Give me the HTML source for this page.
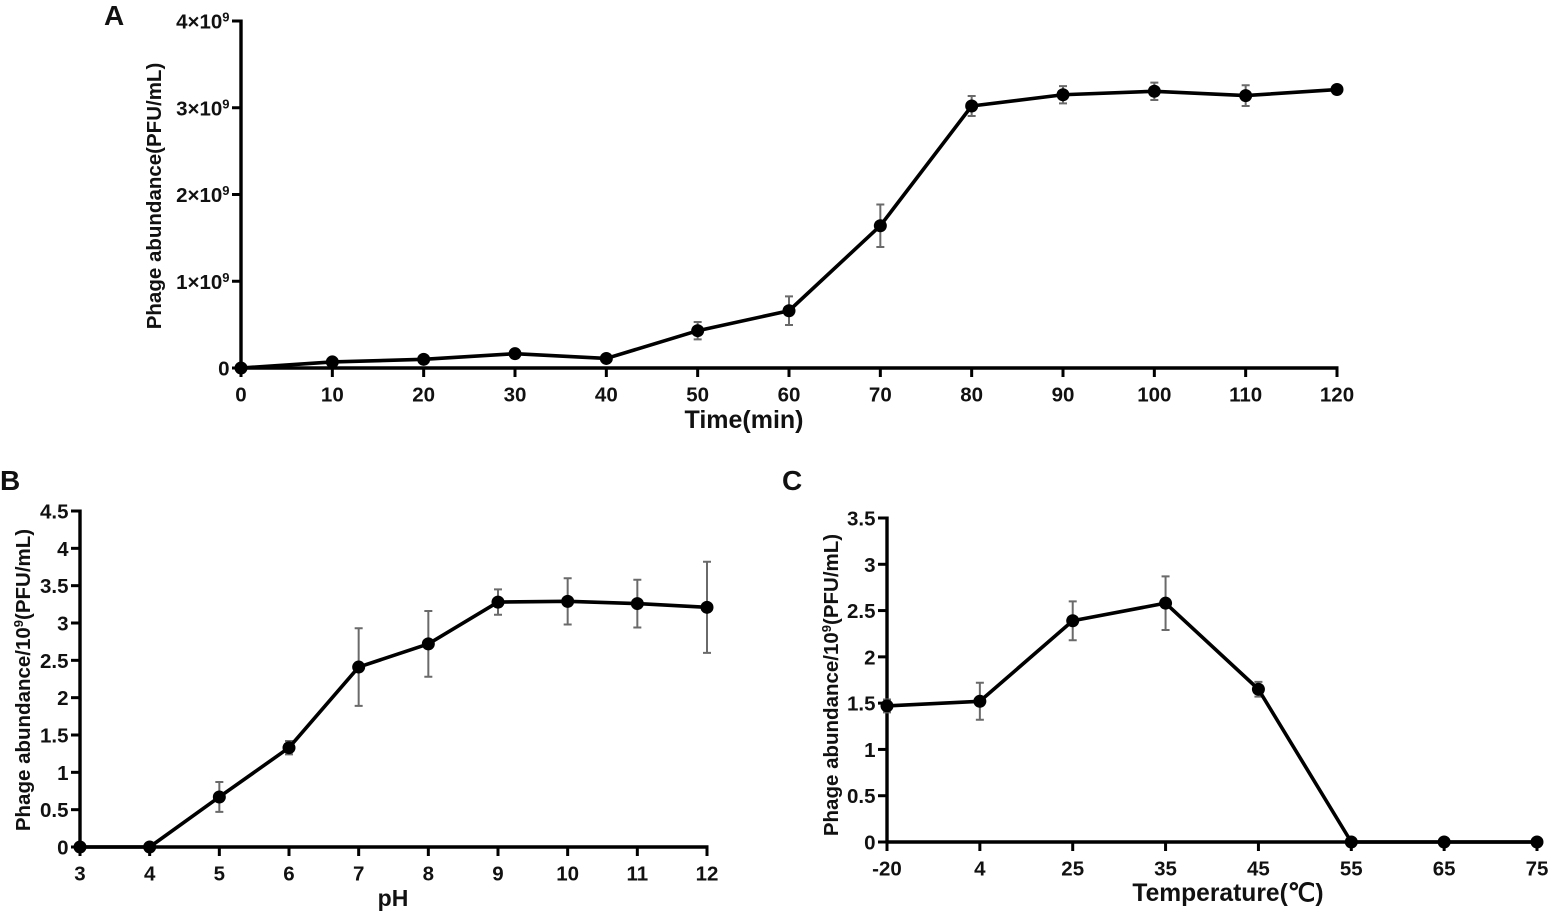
<!DOCTYPE html>
<html>
<head>
<meta charset="utf-8">
<style>
html,body{margin:0;padding:0;background:#fff;}
svg{display:block;}
text{font-family:"Liberation Sans",sans-serif;font-weight:bold;fill:#111;}
</style>
</head>
<body>
<svg id="fig" xmlns="http://www.w3.org/2000/svg" width="1549" height="911" viewBox="0 0 1549 911"></svg>
<script>
// Panel A data
const timeCategories = [0,10,20,30,40,50,60,70,80,90,100,110,120];
const timeValues = [0,0.07,0.10,0.165,0.11,0.43,0.66,1.64,3.02,3.15,3.19,3.14,3.21];
const timeErrors = [0,0,0,0,0,0.10,0.165,0.245,0.115,0.10,0.10,0.12,0];
const timeYTicks = [0,1,2,3,4];
// Panel B data
const phCategories = [3,4,5,6,7,8,9,10,11,12];
const phValues = [0,0,0.67,1.33,2.41,2.72,3.28,3.29,3.26,3.21];
const phErrors = [0,0,0.2,0.09,0.52,0.44,0.17,0.31,0.32,0.61];
const phYTicks = [0,0.5,1,1.5,2,2.5,3,3.5,4,4.5];
// Panel C data
const tempCategories = [-20,4,25,35,45,55,65,75];
const tempValues = [1.47,1.52,2.39,2.58,1.65,0,0,0];
const tempErrors = [0.07,0.2,0.21,0.29,0.08,0,0,0];
const tempYTicks = [0,0.5,1,1.5,2,2.5,3,3.5];

const svg = document.getElementById('fig');
const NS = 'http://www.w3.org/2000/svg';
function mk(tag, attrs, parent){
  const e = document.createElementNS(NS, tag);
  for(const k in attrs) e.setAttribute(k, attrs[k]);
  parent.appendChild(e);
  return e;
}
function panel(cfg){
  const g = mk('g', {}, svg);
  
  
  const n = cfg.cats.length;
  const sx = i => cfg.x0 + (cfg.x1 - cfg.x0) * i / (n - 1);
  const yMax = cfg.yTicks[cfg.yTicks.length - 1];
  const sy = v => cfg.y0 + (cfg.y1 - cfg.y0) * v / yMax;

  // axes
  const yAxis = mk('line', {x1:cfg.x0, x2:cfg.x0, y1:cfg.y0+1.5, y2:cfg.y1-1.5, stroke:'#000','stroke-width':3.4}, g);
  
  
  const xAxis = mk('line', {x1:cfg.x0-1.5, x2:cfg.x1+1.5, y1:cfg.y0, y2:cfg.y0, stroke:'#000','stroke-width':3.4}, g);
  
  

  // y ticks
  cfg.yTicks.forEach(v => {
    const y = sy(v);
    const t = mk('line', {x1:cfg.x0-9, x2:cfg.x0, y1:y, y2:y, stroke:'#000','stroke-width':3}, g);
    
    
    const lab = mk('text', {x:cfg.x0-11.5, y:y+7.5, 'text-anchor':'end','font-size':cfg.tickSize}, g);
    
    
    if(cfg.sci && v !== 0){
      lab.textContent = v + '×10';
      const s = mk('tspan', {dy:-7,'font-size':13}, lab);
      s.textContent = '9';
    } else {
      lab.textContent = v;
    }
  });
  // x ticks
  cfg.cats.forEach((c,i) => {
    const x = sx(i);
    const t = mk('line', {x1:x, x2:x, y1:cfg.y0, y2:cfg.y0+9, stroke:'#000','stroke-width':3}, g);
    
    
    const lab = mk('text', {x:x, y:cfg.y0+33.5, 'text-anchor':'middle','font-size':cfg.tickSize}, g);
    
    
    lab.textContent = c;
  });
  // error bars
  cfg.vals.forEach((v,i) => {
    const e = cfg.errs[i];
    if(!e) return;
    const x = sx(i);
    const top = sy(v + e), bot = sy(v - e);
    const eg = mk('path', {d:`M${x-4} ${top}H${x+4}M${x} ${top}V${bot}M${x-4} ${bot}H${x+4}`, stroke:'#6a6a6a','stroke-width':2, fill:'none'}, g);
    
    
  });
  // line
  const line = mk('polyline', {points:cfg.vals.map((v,i)=>sx(i)+','+sy(v)).join(' '), fill:'none', stroke:'#000','stroke-width':3.6,'stroke-linejoin':'round'}, g);
  
  
  // points
  cfg.vals.forEach((v,i) => {
    const p = mk('circle', {cx:sx(i), cy:sy(v), r:6.5, fill:'#000'}, g);
    
    
  });
  // axis titles
  const xt = mk('text', {x:cfg.xTitleX, y:cfg.xTitleY, 'text-anchor':'middle','font-size':cfg.xTitleSize}, g);
  
  
  xt.textContent = cfg.xTitle;
  const yt = mk('text', {transform:`translate(${cfg.yTitleX} ${cfg.yTitleY}) rotate(-90)`, 'text-anchor':'middle','font-size':cfg.yTitleSize}, g);
  
  
  cfg.yTitle.forEach(part => {
    const s = mk('tspan', part.sup ? {'font-size':13, dy:-7} : (part.after ? {dy:7} : {}), yt);
    s.textContent = part.t;
  });
  // panel letter
  const pl = mk('text', {x:cfg.letterX, y:cfg.letterY, 'font-size':28}, g);
  
  
  pl.textContent = cfg.letter;
}

panel({name:'panel-a-time', letter:'A', letterX:104, letterY:25,
  cats:timeCategories, vals:timeValues, errs:timeErrors, yTicks:timeYTicks, sci:true,
  x0:241, x1:1337, y0:368, y1:21, tickSize:20.5,
  xTitle:'Time(min)', xTitleX:744, xTitleY:428, xTitleSize:25,
  yTitle:[{t:'Phage abundance(PFU/mL)'}], yTitleX:161, yTitleY:196, yTitleSize:20.5});
panel({name:'panel-b-ph', letter:'B', letterX:0, letterY:490,
  cats:phCategories, vals:phValues, errs:phErrors, yTicks:phYTicks,
  x0:80, x1:707, y0:847, y1:511, tickSize:20.5,
  xTitle:'pH', xTitleX:393, xTitleY:906, xTitleSize:23,
  yTitle:[{t:'Phage abundance/10'},{t:'9',sup:true},{t:'(PFU/mL)',after:true}], yTitleX:30, yTitleY:680, yTitleSize:20.5});
panel({name:'panel-c-temperature', letter:'C', letterX:782, letterY:490,
  cats:tempCategories, vals:tempValues, errs:tempErrors, yTicks:tempYTicks,
  x0:887, x1:1537, y0:842, y1:518, tickSize:20.5,
  xTitle:'Temperature(℃)', xTitleX:1228, xTitleY:901, xTitleSize:24.6,
  yTitle:[{t:'Phage abundance/10'},{t:'9',sup:true},{t:'(PFU/mL)',after:true}], yTitleX:838, yTitleY:685, yTitleSize:20.5});
</script>
</body>
</html>
